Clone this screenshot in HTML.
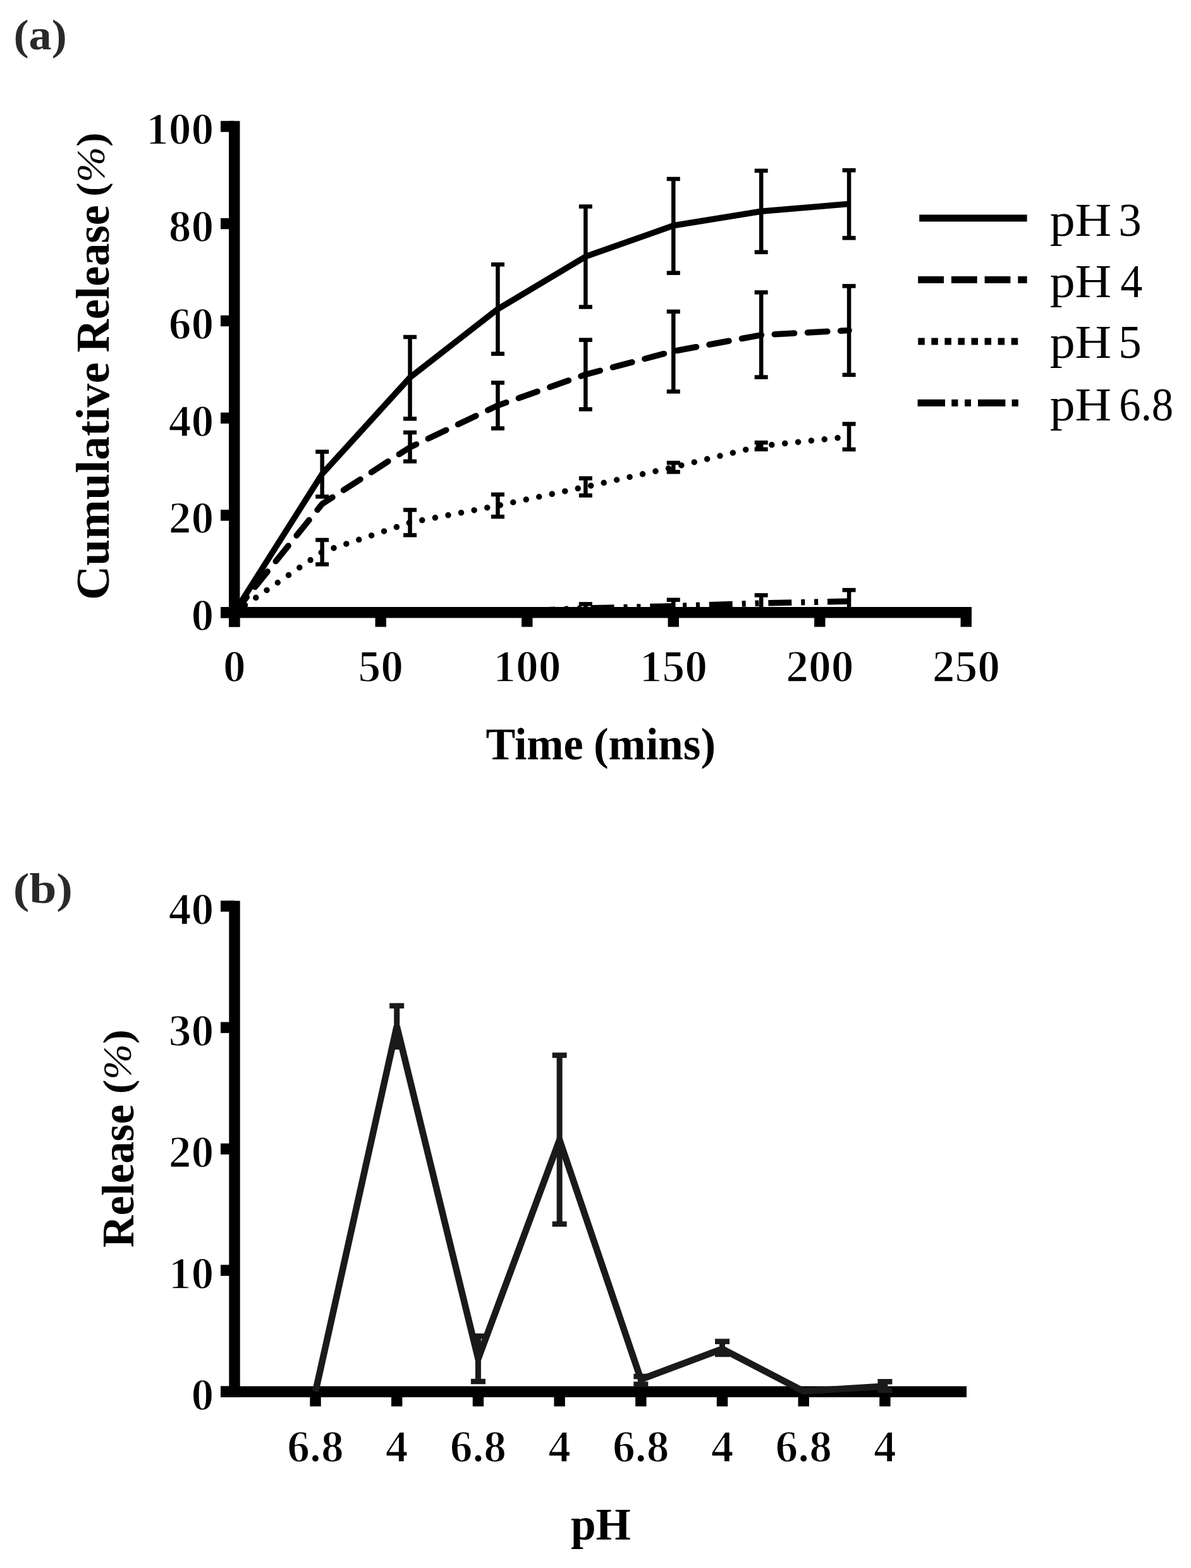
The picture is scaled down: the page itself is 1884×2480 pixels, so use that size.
<!DOCTYPE html>
<html><head><meta charset="utf-8"><title>Cumulative release</title>
<style>
html,body{margin:0;padding:0;background:#fff;width:1884px;height:2480px;overflow:hidden;}
svg{display:block;}
text{font-family:"Liberation Serif", "DejaVu Serif", serif;}
text.t{stroke:#fff;stroke-width:1.6px;stroke-linejoin:round;}
</style></head>
<body>
<svg width="1884" height="2480" viewBox="0 0 1884 2480">
<rect width="1884" height="2480" fill="#fff"/>
<rect x="362.05" y="191.40" width="17.40" height="800.10" fill="#000"/>
<rect x="349.00" y="960.00" width="1188.00" height="17.40" fill="#000"/>
<rect x="349.00" y="960.00" width="21.75" height="17.40" fill="#000"/>
<rect x="349.00" y="806.26" width="21.75" height="17.40" fill="#000"/>
<rect x="349.00" y="652.52" width="21.75" height="17.40" fill="#000"/>
<rect x="349.00" y="498.78" width="21.75" height="17.40" fill="#000"/>
<rect x="349.00" y="345.04" width="21.75" height="17.40" fill="#000"/>
<rect x="349.00" y="191.30" width="21.75" height="17.40" fill="#000"/>
<rect x="362.05" y="968.70" width="17.40" height="22.80" fill="#000"/>
<rect x="593.55" y="968.70" width="17.40" height="22.80" fill="#000"/>
<rect x="825.05" y="968.70" width="17.40" height="22.80" fill="#000"/>
<rect x="1056.55" y="968.70" width="17.40" height="22.80" fill="#000"/>
<rect x="1288.05" y="968.70" width="17.40" height="22.80" fill="#000"/>
<rect x="1519.55" y="968.70" width="17.40" height="22.80" fill="#000"/>
<text class="t" x="338.30" y="997.00" font-size="71.5" font-weight="bold" text-anchor="end" fill="#000">0</text>
<text class="t" x="338.30" y="843.26" font-size="71.5" font-weight="bold" text-anchor="end" fill="#000">20</text>
<text class="t" x="338.30" y="689.52" font-size="71.5" font-weight="bold" text-anchor="end" fill="#000">40</text>
<text class="t" x="338.30" y="535.78" font-size="71.5" font-weight="bold" text-anchor="end" fill="#000">60</text>
<text class="t" x="338.30" y="382.04" font-size="71.5" font-weight="bold" text-anchor="end" fill="#000">80</text>
<text class="t" x="338.30" y="228.30" font-size="71.5" font-weight="bold" text-anchor="end" fill="#000">100</text>
<text class="t" x="370.75" y="1078.10" font-size="71.5" font-weight="bold" text-anchor="middle" fill="#000">0</text>
<text class="t" x="602.25" y="1078.10" font-size="71.5" font-weight="bold" text-anchor="middle" fill="#000">50</text>
<text class="t" x="833.75" y="1078.10" font-size="71.5" font-weight="bold" text-anchor="middle" fill="#000">100</text>
<text class="t" x="1065.25" y="1078.10" font-size="71.5" font-weight="bold" text-anchor="middle" fill="#000">150</text>
<text class="t" x="1296.75" y="1078.10" font-size="71.5" font-weight="bold" text-anchor="middle" fill="#000">200</text>
<text class="t" x="1528.25" y="1078.10" font-size="71.5" font-weight="bold" text-anchor="middle" fill="#000">250</text>
<text x="768.51" y="1201.30" font-size="71" font-weight="bold" fill="#000" textLength="154.18" lengthAdjust="spacingAndGlyphs">Time</text>
<text x="939.00" y="1201.30" font-size="71" font-weight="bold" fill="#000" textLength="193.02" lengthAdjust="spacingAndGlyphs">(mins)</text>
<text transform="translate(172.30,945.00) rotate(-90)" x="-4.12" y="0" font-size="73" font-weight="bold" fill="#000" textLength="375.88" lengthAdjust="spacingAndGlyphs">Cumulative</text>
<text transform="translate(172.30,556.60) rotate(-90)" x="-0.99" y="0" font-size="73" font-weight="bold" fill="#000" textLength="233.30" lengthAdjust="spacingAndGlyphs">Release</text>
<text transform="translate(164.9,260.25) rotate(-90)" x="0" y="0" font-size="63.5" font-weight="bold" text-anchor="middle" textLength="101.4" lengthAdjust="spacingAndGlyphs">(<tspan font-weight="normal" font-style="italic">%</tspan>)</text>
<text x="21.50" y="77.60" font-size="68" font-weight="bold" text-anchor="start" fill="#2a2a2a" textLength="84.2" lengthAdjust="spacingAndGlyphs">(a)</text>
<rect x="506.40" y="714.50" width="6.50" height="71.00" fill="#000"/>
<rect x="499.15" y="711.25" width="21.00" height="6.50" fill="#000"/>
<rect x="499.15" y="782.25" width="21.00" height="6.50" fill="#000"/>
<rect x="645.30" y="533.00" width="6.50" height="129.30" fill="#000"/>
<rect x="638.05" y="529.75" width="21.00" height="6.50" fill="#000"/>
<rect x="638.05" y="659.05" width="21.00" height="6.50" fill="#000"/>
<rect x="784.20" y="418.30" width="6.50" height="141.30" fill="#000"/>
<rect x="776.95" y="415.05" width="21.00" height="6.50" fill="#000"/>
<rect x="776.95" y="556.35" width="21.00" height="6.50" fill="#000"/>
<rect x="923.10" y="326.60" width="6.50" height="158.90" fill="#000"/>
<rect x="915.85" y="323.35" width="21.00" height="6.50" fill="#000"/>
<rect x="915.85" y="482.25" width="21.00" height="6.50" fill="#000"/>
<rect x="1062.00" y="283.00" width="6.50" height="148.70" fill="#000"/>
<rect x="1054.75" y="279.75" width="21.00" height="6.50" fill="#000"/>
<rect x="1054.75" y="428.45" width="21.00" height="6.50" fill="#000"/>
<rect x="1200.90" y="270.00" width="6.50" height="128.80" fill="#000"/>
<rect x="1193.65" y="266.75" width="21.00" height="6.50" fill="#000"/>
<rect x="1193.65" y="395.55" width="21.00" height="6.50" fill="#000"/>
<rect x="1339.80" y="269.30" width="6.50" height="107.10" fill="#000"/>
<rect x="1332.55" y="266.05" width="21.00" height="6.50" fill="#000"/>
<rect x="1332.55" y="373.15" width="21.00" height="6.50" fill="#000"/>
<rect x="645.30" y="684.00" width="6.50" height="45.70" fill="#000"/>
<rect x="638.05" y="680.75" width="21.00" height="6.50" fill="#000"/>
<rect x="638.05" y="726.45" width="21.00" height="6.50" fill="#000"/>
<rect x="784.20" y="605.30" width="6.50" height="72.20" fill="#000"/>
<rect x="776.95" y="602.05" width="21.00" height="6.50" fill="#000"/>
<rect x="776.95" y="674.25" width="21.00" height="6.50" fill="#000"/>
<rect x="923.10" y="537.60" width="6.50" height="109.70" fill="#000"/>
<rect x="915.85" y="534.35" width="21.00" height="6.50" fill="#000"/>
<rect x="915.85" y="644.05" width="21.00" height="6.50" fill="#000"/>
<rect x="1062.00" y="492.80" width="6.50" height="126.50" fill="#000"/>
<rect x="1054.75" y="489.55" width="21.00" height="6.50" fill="#000"/>
<rect x="1054.75" y="616.05" width="21.00" height="6.50" fill="#000"/>
<rect x="1200.90" y="462.40" width="6.50" height="134.10" fill="#000"/>
<rect x="1193.65" y="459.15" width="21.00" height="6.50" fill="#000"/>
<rect x="1193.65" y="593.25" width="21.00" height="6.50" fill="#000"/>
<rect x="1339.80" y="452.40" width="6.50" height="140.50" fill="#000"/>
<rect x="1332.55" y="449.15" width="21.00" height="6.50" fill="#000"/>
<rect x="1332.55" y="589.65" width="21.00" height="6.50" fill="#000"/>
<rect x="506.40" y="854.00" width="6.50" height="38.50" fill="#000"/>
<rect x="499.15" y="850.75" width="21.00" height="6.50" fill="#000"/>
<rect x="499.15" y="889.25" width="21.00" height="6.50" fill="#000"/>
<rect x="645.30" y="806.50" width="6.50" height="39.90" fill="#000"/>
<rect x="638.05" y="803.25" width="21.00" height="6.50" fill="#000"/>
<rect x="638.05" y="843.15" width="21.00" height="6.50" fill="#000"/>
<rect x="784.20" y="782.10" width="6.50" height="35.10" fill="#000"/>
<rect x="776.95" y="778.85" width="21.00" height="6.50" fill="#000"/>
<rect x="776.95" y="813.95" width="21.00" height="6.50" fill="#000"/>
<rect x="923.10" y="756.50" width="6.50" height="27.10" fill="#000"/>
<rect x="915.85" y="753.25" width="21.00" height="6.50" fill="#000"/>
<rect x="915.85" y="780.35" width="21.00" height="6.50" fill="#000"/>
<rect x="1062.00" y="732.00" width="6.50" height="14.40" fill="#000"/>
<rect x="1054.75" y="728.75" width="21.00" height="6.50" fill="#000"/>
<rect x="1054.75" y="743.15" width="21.00" height="6.50" fill="#000"/>
<rect x="1200.90" y="700.00" width="6.50" height="10.60" fill="#000"/>
<rect x="1193.65" y="696.75" width="21.00" height="6.50" fill="#000"/>
<rect x="1193.65" y="707.35" width="21.00" height="6.50" fill="#000"/>
<rect x="1339.80" y="670.50" width="6.50" height="40.30" fill="#000"/>
<rect x="1332.55" y="667.25" width="21.00" height="6.50" fill="#000"/>
<rect x="1332.55" y="707.55" width="21.00" height="6.50" fill="#000"/>
<rect x="923.10" y="955.40" width="6.50" height="12.60" fill="#000"/>
<rect x="915.85" y="952.15" width="21.00" height="6.50" fill="#000"/>
<rect x="915.85" y="964.75" width="21.00" height="6.50" fill="#000"/>
<rect x="1062.00" y="948.70" width="6.50" height="19.30" fill="#000"/>
<rect x="1054.75" y="945.45" width="21.00" height="6.50" fill="#000"/>
<rect x="1054.75" y="964.75" width="21.00" height="6.50" fill="#000"/>
<rect x="1200.90" y="941.40" width="6.50" height="25.60" fill="#000"/>
<rect x="1193.65" y="938.15" width="21.00" height="6.50" fill="#000"/>
<rect x="1193.65" y="963.75" width="21.00" height="6.50" fill="#000"/>
<rect x="1339.80" y="933.20" width="6.50" height="35.80" fill="#000"/>
<rect x="1332.55" y="929.95" width="21.00" height="6.50" fill="#000"/>
<rect x="1332.55" y="965.75" width="21.00" height="6.50" fill="#000"/>
<path d="M370.75,968.70 L509.65,749.50 L648.55,597.00 L787.45,488.80 L926.35,405.80 L1065.25,356.80 L1204.15,334.30 L1343.05,322.50" fill="none" stroke="#000" stroke-width="9.5" stroke-linecap="butt" stroke-linejoin="round"/>
<path d="M370.75,968.70 L509.65,797.00 L648.55,707.50 L787.45,641.30 L926.35,592.30 L1065.25,555.50 L1204.15,529.80 L1343.05,522.50" fill="none" stroke="#000" stroke-width="9.5" stroke-linecap="round" stroke-linejoin="round" stroke-dasharray="31.5 20.8" stroke-dashoffset="0.45"/>
<path d="M370.75,968.70 L509.65,873.00 L648.55,826.50 L787.45,799.70 L926.35,770.00 L1065.25,739.00 L1204.15,705.30 L1343.05,690.70" fill="none" stroke="#000" stroke-width="9.5" stroke-linecap="round" stroke-linejoin="round" stroke-dasharray="0 20.96" stroke-dashoffset="0.62"/>
<path d="M370.75,968.70 L509.65,968.70 L648.55,968.70 L787.45,968.70 L926.35,962.00 L1065.25,958.70 L1204.15,954.00 L1343.05,951.00" fill="none" stroke="#000" stroke-width="9.5" stroke-linecap="butt" stroke-linejoin="round" stroke-dasharray="36.9 15 6 14.85 6 14.85" stroke-dashoffset="-2.5"/>
<path d="M1454.20,344.90 L1624.60,344.90" fill="none" stroke="#000" stroke-width="11" stroke-linecap="butt" stroke-linejoin="round"/>
<path d="M1452.20,442.40 L1624.60,442.40" fill="none" stroke="#000" stroke-width="11" stroke-linecap="butt" stroke-linejoin="round" stroke-dasharray="40.8 11.9" stroke-dashoffset="0"/>
<path d="M1452.25,540.00 L1610.80,540.00" fill="none" stroke="#000" stroke-width="11" stroke-linecap="butt" stroke-linejoin="round" stroke-dasharray="10.5 10.56" stroke-dashoffset="0"/>
<path d="M1451.60,637.20 L1610.80,637.20" fill="none" stroke="#000" stroke-width="11" stroke-linecap="butt" stroke-linejoin="round" stroke-dasharray="43.4 10.2 10.2 10.6 10 11" stroke-dashoffset="0"/>
<text x="1660.74" y="372.90" font-size="75" font-weight="normal" fill="#000" textLength="97.50" lengthAdjust="spacingAndGlyphs">pH</text>
<text x="1769.22" y="372.90" font-size="75" font-weight="normal" fill="#000" textLength="36.41" lengthAdjust="spacingAndGlyphs">3</text>
<text x="1660.74" y="469.60" font-size="75" font-weight="normal" fill="#000" textLength="97.50" lengthAdjust="spacingAndGlyphs">pH</text>
<text x="1772.17" y="469.60" font-size="75" font-weight="normal" fill="#000" textLength="35.04" lengthAdjust="spacingAndGlyphs">4</text>
<text x="1660.74" y="566.30" font-size="75" font-weight="normal" fill="#000" textLength="97.50" lengthAdjust="spacingAndGlyphs">pH</text>
<text x="1769.22" y="566.30" font-size="75" font-weight="normal" fill="#000" textLength="36.41" lengthAdjust="spacingAndGlyphs">5</text>
<text x="1660.74" y="664.70" font-size="75" font-weight="normal" fill="#000" textLength="97.50" lengthAdjust="spacingAndGlyphs">pH</text>
<text x="1770.36" y="664.70" font-size="75" font-weight="normal" fill="#000" textLength="85.76" lengthAdjust="spacingAndGlyphs">6.8</text>
<rect x="362.30" y="1424.80" width="17.40" height="785.10" fill="#000"/>
<rect x="349.00" y="2192.50" width="1180.00" height="17.40" fill="#000"/>
<rect x="349.00" y="2192.50" width="22.00" height="17.40" fill="#000"/>
<text class="t" x="338.30" y="2230.00" font-size="71.5" font-weight="bold" text-anchor="end" fill="#000">0</text>
<rect x="349.00" y="2000.50" width="22.00" height="17.40" fill="#000"/>
<text class="t" x="338.30" y="2038.00" font-size="71.5" font-weight="bold" text-anchor="end" fill="#000">10</text>
<rect x="349.00" y="1808.50" width="22.00" height="17.40" fill="#000"/>
<text class="t" x="338.30" y="1846.00" font-size="71.5" font-weight="bold" text-anchor="end" fill="#000">20</text>
<rect x="349.00" y="1616.50" width="22.00" height="17.40" fill="#000"/>
<text class="t" x="338.30" y="1654.00" font-size="71.5" font-weight="bold" text-anchor="end" fill="#000">30</text>
<rect x="349.00" y="1424.50" width="22.00" height="17.40" fill="#000"/>
<text class="t" x="338.30" y="1462.00" font-size="71.5" font-weight="bold" text-anchor="end" fill="#000">40</text>
<rect x="490.30" y="2201.20" width="17.40" height="23.20" fill="#000"/>
<text class="t" x="499.00" y="2312.00" font-size="71.5" font-weight="bold" text-anchor="middle" fill="#000">6.8</text>
<rect x="619.00" y="2201.20" width="17.40" height="23.20" fill="#000"/>
<text class="t" x="627.70" y="2312.00" font-size="71.5" font-weight="bold" text-anchor="middle" fill="#000">4</text>
<rect x="747.70" y="2201.20" width="17.40" height="23.20" fill="#000"/>
<text class="t" x="756.40" y="2312.00" font-size="71.5" font-weight="bold" text-anchor="middle" fill="#000">6.8</text>
<rect x="876.40" y="2201.20" width="17.40" height="23.20" fill="#000"/>
<text class="t" x="885.10" y="2312.00" font-size="71.5" font-weight="bold" text-anchor="middle" fill="#000">4</text>
<rect x="1005.10" y="2201.20" width="17.40" height="23.20" fill="#000"/>
<text class="t" x="1013.80" y="2312.00" font-size="71.5" font-weight="bold" text-anchor="middle" fill="#000">6.8</text>
<rect x="1133.80" y="2201.20" width="17.40" height="23.20" fill="#000"/>
<text class="t" x="1142.50" y="2312.00" font-size="71.5" font-weight="bold" text-anchor="middle" fill="#000">4</text>
<rect x="1262.50" y="2201.20" width="17.40" height="23.20" fill="#000"/>
<text class="t" x="1271.20" y="2312.00" font-size="71.5" font-weight="bold" text-anchor="middle" fill="#000">6.8</text>
<rect x="1391.20" y="2201.20" width="17.40" height="23.20" fill="#000"/>
<text class="t" x="1399.90" y="2312.00" font-size="71.5" font-weight="bold" text-anchor="middle" fill="#000">4</text>
<text x="950.30" y="2434.90" font-size="72" font-weight="bold" text-anchor="middle" fill="#000" textLength="94.8" lengthAdjust="spacingAndGlyphs">pH</text>
<text transform="translate(211.40,1972.20) rotate(-90)" x="-0.98" y="0" font-size="72" font-weight="bold" fill="#000" textLength="226.22" lengthAdjust="spacingAndGlyphs">Release</text>
<text transform="translate(206.8,1679.3) rotate(-90)" x="0" y="0" font-size="63.5" font-weight="bold" text-anchor="middle" textLength="102.1" lengthAdjust="spacingAndGlyphs">(<tspan font-weight="normal" font-style="italic">%</tspan>)</text>
<text x="20.80" y="1428.30" font-size="68" font-weight="bold" text-anchor="start" fill="#2a2a2a" textLength="94.2" lengthAdjust="spacingAndGlyphs">(b)</text>
<rect x="623.20" y="1590.80" width="9.00" height="65.00" fill="#1a1a1a"/>
<rect x="616.20" y="1586.55" width="23.00" height="8.50" fill="#1a1a1a"/>
<rect x="616.20" y="1651.55" width="23.00" height="8.50" fill="#1a1a1a"/>
<rect x="751.90" y="2113.30" width="9.00" height="71.70" fill="#1a1a1a"/>
<rect x="744.90" y="2109.05" width="23.00" height="8.50" fill="#1a1a1a"/>
<rect x="744.90" y="2180.75" width="23.00" height="8.50" fill="#1a1a1a"/>
<rect x="880.60" y="1669.00" width="9.00" height="267.00" fill="#1a1a1a"/>
<rect x="873.60" y="1664.75" width="23.00" height="8.50" fill="#1a1a1a"/>
<rect x="873.60" y="1931.75" width="23.00" height="8.50" fill="#1a1a1a"/>
<rect x="1009.30" y="2177.00" width="9.00" height="12.50" fill="#1a1a1a"/>
<rect x="1002.30" y="2172.75" width="23.00" height="8.50" fill="#1a1a1a"/>
<rect x="1002.30" y="2185.25" width="23.00" height="8.50" fill="#1a1a1a"/>
<rect x="1138.00" y="2121.70" width="9.00" height="20.30" fill="#1a1a1a"/>
<rect x="1131.00" y="2117.45" width="23.00" height="8.50" fill="#1a1a1a"/>
<rect x="1131.00" y="2137.75" width="23.00" height="8.50" fill="#1a1a1a"/>
<rect x="1395.40" y="2185.30" width="9.00" height="13.70" fill="#1a1a1a"/>
<rect x="1388.40" y="2181.05" width="23.00" height="8.50" fill="#1a1a1a"/>
<rect x="1388.40" y="2194.75" width="23.00" height="8.50" fill="#1a1a1a"/>
<path d="M499.00,2201.20 L627.70,1623.30 L756.40,2149.00 L885.10,1803.00 L1013.80,2181.60 L1142.50,2133.50 L1271.20,2200.50 L1399.90,2192.50" fill="none" stroke="#1a1a1a" stroke-width="10.5" stroke-linecap="butt" stroke-linejoin="miter"/>
</svg>
</body></html>
